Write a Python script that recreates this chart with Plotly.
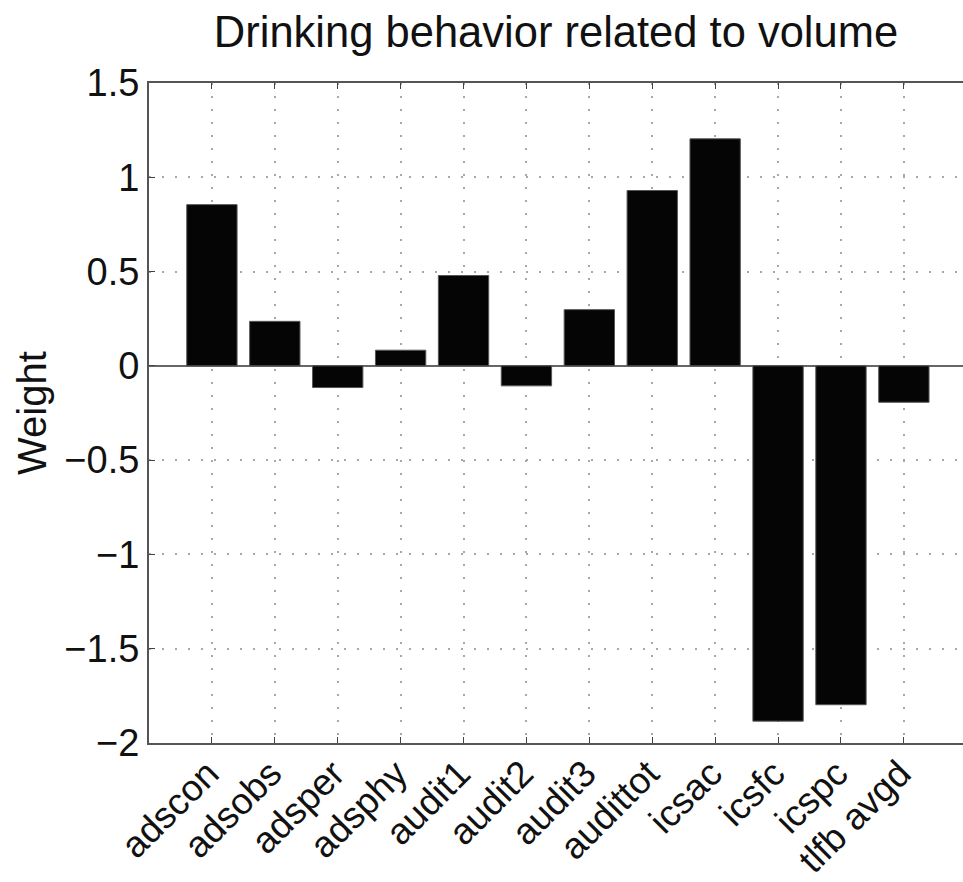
import plotly.graph_objects as go

categories = ["adscon", "adsobs", "adsper", "adsphy", "audit1", "audit2",
              "audit3", "audittot", "icsac", "icsfc", "icspc", "tlfb avgd"]
weights = [0.855, 0.236, -0.115, 0.083, 0.479, -0.106,
           0.298, 0.93, 1.204, -1.884, -1.797, -0.193]
y_ticks = [-2, -1.5, -1, -0.5, 0, 0.5, 1, 1.5]
y_tick_labels = ["\u22122", "\u22121.5", "\u22121", "\u22120.5", "0", "0.5", "1", "1.5"]

FONT = "Liberation Sans, Arial, Helvetica, sans-serif"

fig = go.Figure()
fig.add_trace(go.Bar(
    x=categories, y=weights, width=0.8,
    marker=dict(color="#050505", line=dict(color="#555555", width=1)),
    showlegend=False,
))

fig.update_layout(
    width=963, height=882,
    margin=dict(l=149, r=0, t=83, b=139),
    paper_bgcolor="white", plot_bgcolor="white",
    font=dict(family=FONT, color="#111111"),
    title=dict(text="Drinking behavior related to volume",
               font=dict(size=43.5, family=FONT, color="#111111"),
               x=0.5, xref="paper", xanchor="center",
               y=1 - 32 / 882, yref="container", yanchor="middle"),
    bargap=0.2,
)

fig.update_xaxes(
    type="category", range=[-1, 11.94], automargin=False,
    tickangle=-45, tickfont=dict(size=37, family=FONT, color="#111111"),
    ticklabelshift=-4, ticklabelstandoff=-8,
    ticks="inside", ticklen=6, tickcolor="#444444",
    showline=True, linecolor="#555555", linewidth=2, mirror="allticks",
    showgrid=True, gridcolor="#a8a8a8", griddash="2px,11px", gridwidth=1.5,
    zeroline=False,
)
fig.update_yaxes(
    range=[-2, 1.5], tickvals=y_ticks, ticktext=y_tick_labels, automargin=False,
    tickfont=dict(size=38, family=FONT, color="#111111"),
    ticks="inside", ticklen=6, tickcolor="#444444",
    showline=True, linecolor="#555555", linewidth=2, mirror=False,
    showgrid=True, gridcolor="#a8a8a8", griddash="2px,11px", gridwidth=1.5,
    zeroline=True, zerolinecolor="#666666", zerolinewidth=1.5,
)

fig.add_annotation(
    text="Weight", textangle=-90, showarrow=False,
    xref="paper", yref="paper", x=(32 - 149) / 814, y=0.5,
    xanchor="center", yanchor="middle",
    font=dict(size=40, family=FONT, color="#111111"),
)

fig.write_html("out.html")
